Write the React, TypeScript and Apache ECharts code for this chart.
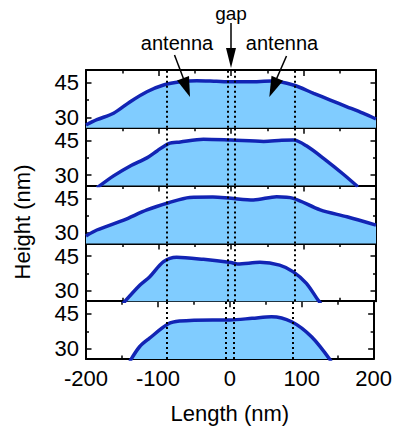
import React, { useEffect, useRef } from "react";
import * as echarts from "echarts";

// ---- data ----
const xMin = -200;
const xMax = 200;
const xInterval = 100;
const yMin = 25.5;
const yMax = 50.5;
const yMajorTicks = [30, 45];
const yMinorTicks = [37.5];
const guideLines = [-88, -5, 5, 88];

const profile1: [number, number][] = [
  [-200, 26.7], [-185, 29], [-162, 31.8], [-139, 36.8], [-116, 41.1], [-93, 44],
  [-70, 45.4], [-47, 45.9], [-20, 45.6], [0, 45.4], [25, 45.4], [56, 45.7],
  [86, 44], [114, 40.4], [137, 37.5], [160, 34.6], [182, 31.8], [200, 29.3],
];
const profile2: [number, number][] = [
  [-185, 24.5], [-162, 29.7], [-139, 34], [-116, 37.5], [-102, 40.5], [-86, 43.7],
  [-70, 44.4], [-38, 45.6], [0, 45.2], [45, 44.6], [70, 45.1], [86, 45.2],
  [104, 42.7], [132, 36.2], [155, 30.4], [175, 25],
];
const profile3: [number, number][] = [
  [-200, 28.7], [-185, 31.3], [-148, 35.6], [-116, 40], [-86, 43.1], [-57, 45.4],
  [-25, 45.6], [0, 45], [31, 44.3], [63, 45.7], [86, 45], [123, 40],
  [160, 37], [200, 33.4],
];
const profile4: [number, number][] = [
  [-149, 24.5], [-125.5, 32.5], [-112, 36.1], [-93, 42.6], [-75, 44.5], [-38, 43.6],
  [0, 42.2], [9, 41.6], [40, 42.3], [67, 41.1], [86, 38.2], [104, 33.2],
  [120, 26], [124, 24.5],
];
const profile5: [number, number][] = [
  [-139, 24.5], [-125.5, 30.8], [-112, 34.4], [-86, 40.6], [-70, 41.9], [-24, 42.4],
  [0, 42.4], [31, 43.1], [58, 43.8], [86, 41.6], [114, 35], [141, 24.5],
];
const profiles = [profile1, profile2, profile3, profile4, profile5];

const xTitle = "Length (nm)";
const yTitle = "Height (nm)";
const gapLabel = "gap";
const antennaLabel = "antenna";

// ---- style ----
const FONT = "'Liberation Sans', Arial, sans-serif";
const LINE_COLOR = "#1224B4";
const FILL_COLOR = "#80CCFF";

export default function App() {
  const ref = useRef<HTMLDivElement>(null);

  useEffect(() => {
    if (!ref.current) return;
    const chart = echarts.init(ref.current, undefined, { renderer: "svg" });

    const n = profiles.length;
    const plotTop = 70;
    const plotBottom = 359;
    const h = (plotBottom - plotTop) / n;
    const left = 86;
    const width = 290;

    const grids: any[] = [];
    const xAxes: any[] = [];
    const yAxes: any[] = [];
    const series: any[] = [];

    profiles.forEach((data, i) => {
      grids.push({ left, width, top: plotTop + i * h, height: h });
      const isLast = i === n - 1;
      const xBase = (pos: string, labels: boolean) => ({
        type: "value",
        gridIndex: i,
        position: pos,
        min: xMin,
        max: xMax,
        interval: xInterval,
        axisLine: { show: true, onZero: false, lineStyle: { color: "#000", width: 2 } },
        axisTick: { show: true, inside: true, length: 6, lineStyle: { color: "#000", width: 1.5 } },
        minorTick: { show: true, splitNumber: 2, length: 3.5, lineStyle: { color: "#000", width: 1.5 } },
        splitLine: { show: false },
        minorSplitLine: { show: false },
        axisLabel: {
          show: labels,
          color: "#000",
          fontSize: 22,
          fontFamily: FONT,
          margin: 8,
        },
        ...(labels
          ? {
              name: xTitle,
              nameLocation: "middle",
              nameGap: 43,
              nameTextStyle: { color: "#000", fontSize: 22, fontFamily: FONT },
            }
          : {}),
      });
      xAxes.push(xBase("bottom", isLast));
      xAxes.push(xBase("top", false));

      const yBase = (pos: string, labels: boolean, major: boolean) => ({
        type: "value",
        gridIndex: i,
        position: pos,
        min: yMin,
        max: yMax,
        axisLine: { show: major, onZero: false, lineStyle: { color: "#000", width: 2 } },
        axisTick: {
          show: true,
          inside: true,
          length: major ? 5.5 : 3,
          customValues: major ? yMajorTicks : yMinorTicks,
          lineStyle: { color: "#000", width: 1.5 },
        },
        splitLine: { show: false },
        axisLabel: {
          show: labels,
          customValues: yMajorTicks,
          color: "#000",
          fontSize: 22,
          fontFamily: FONT,
          margin: 7,
        },
      });
      yAxes.push(yBase("left", true, true));
      yAxes.push(yBase("right", false, true));
      yAxes.push(yBase("left", false, false));
      yAxes.push(yBase("right", false, false));

      series.push({
        type: "line",
        xAxisIndex: 2 * i,
        yAxisIndex: 4 * i,
        data,
        smooth: 0.3,
        showSymbol: false,
        clip: true,
        lineStyle: { color: LINE_COLOR, width: 3.5 },
        areaStyle: { color: FILL_COLOR, opacity: 1, origin: "start" },
        z: 2,
        markLine: {
          silent: true,
          symbol: "none",
          animation: false,
          label: { show: false },
          lineStyle: { color: "#000", type: [2, 3], width: 2 },
          data: guideLines.map((v) => ({ xAxis: v })),
        },
      });
    });

    const textStyle = (text: string, size: number) => ({
      text,
      fill: "#000",
      fontSize: size,
      fontFamily: FONT,
      align: "center",
      verticalAlign: "middle",
      textAlign: "center",
      textVerticalAlign: "middle",
    });

    const Z = 100;
    const graphic: any[] = [
      { type: "text", z: Z, x: 231, y: 13, style: textStyle(gapLabel, 19) },
      { type: "text", z: Z, x: 177, y: 43, style: textStyle(antennaLabel, 20) },
      { type: "text", z: Z, x: 282, y: 43, style: textStyle(antennaLabel, 20) },
      {
        type: "text",
        z: Z,
        x: 22,
        y: 222,
        rotation: Math.PI / 2,
        style: textStyle(yTitle, 22),
      },
      // gap arrow
      { type: "line", z: Z, shape: { x1: 231, y1: 23, x2: 231, y2: 50 }, style: { stroke: "#000", lineWidth: 1.5 } },
      { type: "polygon", z: Z, shape: { points: [[226, 48], [236, 48], [231, 68]] }, style: { fill: "#000" } },
      // left antenna arrow
      { type: "line", z: Z, shape: { x1: 174.5, y1: 55, x2: 184, y2: 80 }, style: { stroke: "#000", lineWidth: 1.5 } },
      { type: "polygon", z: Z, shape: { points: [[189, 76], [177, 80.6], [190, 97]] }, style: { fill: "#000" } },
      // right antenna arrow
      { type: "line", z: Z, shape: { x1: 286.5, y1: 56, x2: 276, y2: 80 }, style: { stroke: "#000", lineWidth: 1.5 } },
      { type: "polygon", z: Z, shape: { points: [[283, 80.8], [271.5, 75.8], [269.3, 97]] }, style: { fill: "#000" } },
    ];

    chart.setOption({
      animation: false,
      backgroundColor: "#fff",
      grid: grids,
      xAxis: xAxes,
      yAxis: yAxes,
      series,
      graphic,
    });

    return () => chart.dispose();
  }, []);

  return (
    <div
      ref={ref}
      style={{ position: "fixed", left: 0, top: 0, width: 395, height: 432 }}
    />
  );
}
